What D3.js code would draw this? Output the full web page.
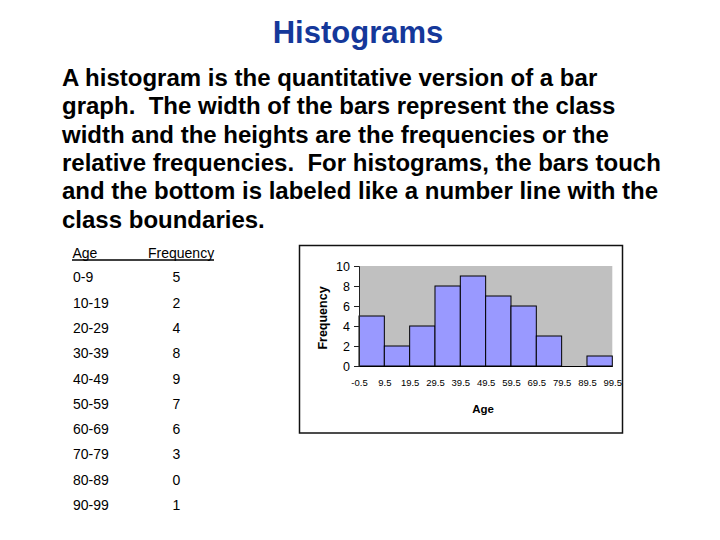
<!DOCTYPE html>
<html>
<head>
<meta charset="utf-8">
<script src="https://cdn.jsdelivr.net/npm/d3@7"></script>
<style>
  body { margin: 0; background: #fff; }
  svg { display: block; font-family: "Liberation Sans", Arial, sans-serif; }
</style>
</head>
<body>
<svg width="720" height="540"></svg>
<script>
var svg = d3.select('svg');

// data
var titleText = 'Histograms';
var paragraphLines = [
  'A histogram is the quantitative version of a bar',
  'graph.  The width of the bars represent the class',
  'width and the heights are the frequencies or the',
  'relative frequencies.  For histograms, the bars touch',
  'and the bottom is labeled like a number line with the',
  'class boundaries.'
];
var ageClasses = ['0-9', '10-19', '20-29', '30-39', '40-49', '50-59', '60-69', '70-79', '80-89', '90-99'];
var frequencies = [5, 2, 4, 8, 9, 7, 6, 3, 0, 1];
var boundaries = [-0.5, 9.5, 19.5, 29.5, 39.5, 49.5, 59.5, 69.5, 79.5, 89.5, 99.5];
var boundaryLabels = ['-0.5', '9.5', '19.5', '29.5', '39.5', '49.5', '59.5', '69.5', '79.5', '89.5', '99.5'];
var yTicks = [0, 2, 4, 6, 8, 10];

// title
svg.append('text')
  .attr('x', 358)
  .attr('y', 43)
  .attr('text-anchor', 'middle')
  .attr('font-size', 31)
  .attr('font-weight', 'bold')
  .attr('fill', '#15389a')
  .text(titleText);

// paragraph
svg.append('g').selectAll('text')
  .data(paragraphLines)
  .enter()
  .append('text')
  .attr('x', 62)
  .attr('y', function(d, i) { return 85.7 + i * 28.4; })
  .attr('font-size', 24)
  .attr('font-weight', 'bold')
  .attr('fill', '#000')
  .style('white-space', 'pre')
  .text(function(d) { return d; });

// frequency table
var table = svg.append('g').attr('font-size', 14).attr('fill', '#000');
table.append('text').attr('x', 72.5).attr('y', 258).text('Age');
table.append('text').attr('x', 148).attr('y', 258).text('Frequency');
table.append('line')
  .attr('x1', 72).attr('x2', 214)
  .attr('y1', 260).attr('y2', 260)
  .attr('stroke', '#000').attr('stroke-width', 1.5);

table.selectAll('.cls')
  .data(ageClasses)
  .enter()
  .append('text')
  .attr('class', 'cls')
  .attr('x', 73)
  .attr('y', function(d, i) { return 282.3 + i * 25.3; })
  .text(function(d) { return d; });

table.selectAll('.freq')
  .data(frequencies)
  .enter()
  .append('text')
  .attr('class', 'freq')
  .attr('x', 176.5)
  .attr('y', function(d, i) { return 282.3 + i * 25.3; })
  .attr('text-anchor', 'middle')
  .text(function(d) { return d; });

// chart box
svg.append('rect')
  .attr('x', 299.5).attr('y', 245.5)
  .attr('width', 323).attr('height', 187.5)
  .attr('fill', '#fff')
  .attr('stroke', '#111').attr('stroke-width', 1.5);

var x = d3.scaleLinear().domain([-0.5, 99.5]).range([359, 612.3]);
var y = d3.scaleLinear().domain([0, 10]).range([366, 266]);

// plot area
svg.append('rect')
  .attr('x', x(-0.5)).attr('y', y(10))
  .attr('width', x(99.5) - x(-0.5)).attr('height', y(0) - y(10))
  .attr('fill', '#c0c0c0');

// bars
svg.append('g').selectAll('rect')
  .data(frequencies)
  .enter()
  .append('rect')
  .attr('x', function(d, i) { return x(boundaries[i]); })
  .attr('y', function(d) { return y(d); })
  .attr('width', function(d, i) { return x(boundaries[i + 1]) - x(boundaries[i]); })
  .attr('height', function(d) { return y(0) - y(d); })
  .attr('fill', '#9999ff')
  .attr('stroke', '#000')
  .attr('stroke-width', 1);

// y axis
var yAxis = svg.append('g')
  .attr('transform', 'translate(' + x(-0.5) + ',0)')
  .call(d3.axisLeft(y).tickValues(yTicks).tickSize(5).tickPadding(4));
yAxis.select('.domain').attr('stroke', '#222');
yAxis.selectAll('.tick line').attr('stroke', '#222');
yAxis.selectAll('text')
  .attr('font-family', '"Liberation Sans", Arial, sans-serif')
  .attr('font-size', 12.5)
  .attr('fill', '#000');

// x axis
var xAxis = svg.append('g')
  .attr('transform', 'translate(0,' + y(0) + ')')
  .call(d3.axisBottom(x).tickValues(boundaries).tickSize(0).tickPadding(13)
    .tickFormat(function(d, i) { return boundaryLabels[i]; }));
xAxis.select('.domain').attr('stroke', '#000').attr('stroke-width', 1.2);
xAxis.selectAll('text')
  .attr('font-family', '"Liberation Sans", Arial, sans-serif')
  .attr('font-size', 9.5)
  .attr('fill', '#000');

// axis titles
svg.append('text')
  .attr('transform', 'translate(327,318) rotate(-90)')
  .attr('text-anchor', 'middle')
  .attr('font-size', 12.5)
  .attr('font-weight', 'bold')
  .text('Frequency');

svg.append('text')
  .attr('x', 483)
  .attr('y', 412.5)
  .attr('text-anchor', 'middle')
  .attr('font-size', 11.5)
  .attr('font-weight', 'bold')
  .text('Age');
</script>
</body>
</html>
